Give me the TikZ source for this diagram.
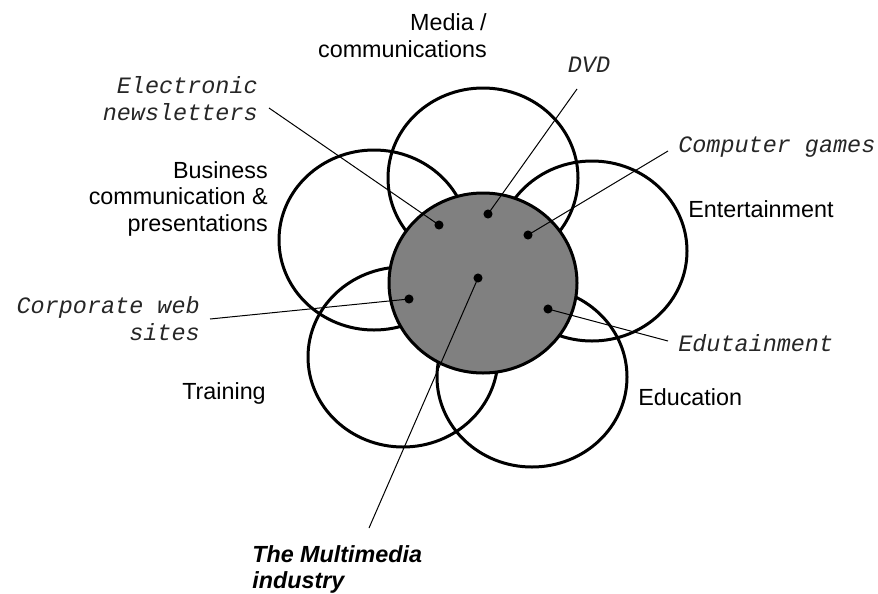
\documentclass[tikz,border=0pt]{standalone}
\usepackage{fontspec}
\newfontfamily\areafont{Liberation Sans}
\newfontfamily\examplefont{Liberation Mono}
\begin{document}
\begin{tikzpicture}[x=0.75pt,y=-0.75pt,
  area/.style={draw=black,line width=2.25pt},
  core/.style={draw=black,fill=coregray,line width=2.25pt},
  areatext/.style={inner sep=0pt,font=\areafont\fontsize{17.5pt}{19.6pt}\selectfont,text=black},
  exampletext/.style={inner sep=0pt,font=\examplefont\itshape\fontsize{17.6pt}{20.2pt}\selectfont,text=black!85},
  spot/.style={circle,fill=black,inner sep=0pt,minimum size=6.8pt},
  leader/.style={draw=black,line width=0.75pt}]
\definecolor{coregray}{RGB}{128,128,128}
\useasboundingbox (0,0) rectangle (878,593);

% the five application areas
\draw[area] (483,178) ellipse [x radius=71.25pt, y radius=67.5pt];
\draw[area] (374,240) ellipse [x radius=71.25pt, y radius=67.5pt];
\draw[area] (592,251) ellipse [x radius=71.25pt, y radius=67.5pt];
\draw[area] (403,357) ellipse [x radius=71.25pt, y radius=67.5pt];
\draw[area] (532,377) ellipse [x radius=71.25pt, y radius=67.5pt];

% the multimedia industry at the centre
\draw[core] (483,283) ellipse [x radius=70.5pt, y radius=67.5pt];

% area names (multi-line nodes are placed by their last baseline)
\node[areatext,align=right,anchor=base east] (media) at (487,57) {Media /\\communications};
\node[areatext,align=right,anchor=base east] (business) at (268,231) {Business\\communication \&\\presentations};
\node[areatext,anchor=base west] (entertain) at (688,217) {Entertainment};
\node[areatext,anchor=base east] (training) at (266,399) {Training};
\node[areatext,anchor=base west] (education) at (638,405) {Education};
\node[areatext,align=left,anchor=base west,font=\areafont\bfseries\itshape\fontsize{17.5pt}{18.8pt}\selectfont] (industry) at (252,588) {The Multimedia\\industry};

% example products
\node[exampletext,align=right,anchor=base east] (news) at (258,120) {Electronic\\newsletters};
\node[exampletext,anchor=base] (dvd) at (589,72) {DVD};
\node[exampletext,anchor=base west] (games) at (678,152) {Computer games};
\node[exampletext,align=right,anchor=base east] (corp) at (200,340) {Corporate web\\sites};
\node[exampletext,anchor=base west] (edutain) at (678,351) {Edutainment};

% spots inside the core
\node[spot] (pnews) at (439,225) {};
\node[spot] (pdvd) at (488,214) {};
\node[spot] (pgames) at (528,235) {};
\node[spot] (pcorp) at (409,299) {};
\node[spot] (pindustry) at (478,278) {};
\node[spot] (pedutain) at (548,309) {};

% leader line ends next to the labels
\coordinate (enews) at (269,108);
\coordinate (edvd) at (577,89);
\coordinate (egames) at (668,151);
\coordinate (ecorp) at (210,319);
\coordinate (eindustry) at (369,528);
\coordinate (eedutain) at (668,341);

\draw[leader] (enews) -- (pnews.center);
\draw[leader] (edvd) -- (pdvd.center);
\draw[leader] (egames) -- (pgames.center);
\draw[leader] (ecorp) -- (pcorp.center);
\draw[leader] (eindustry) -- (pindustry.center);
\draw[leader] (eedutain) -- (pedutain.center);
\end{tikzpicture}
\end{document}
